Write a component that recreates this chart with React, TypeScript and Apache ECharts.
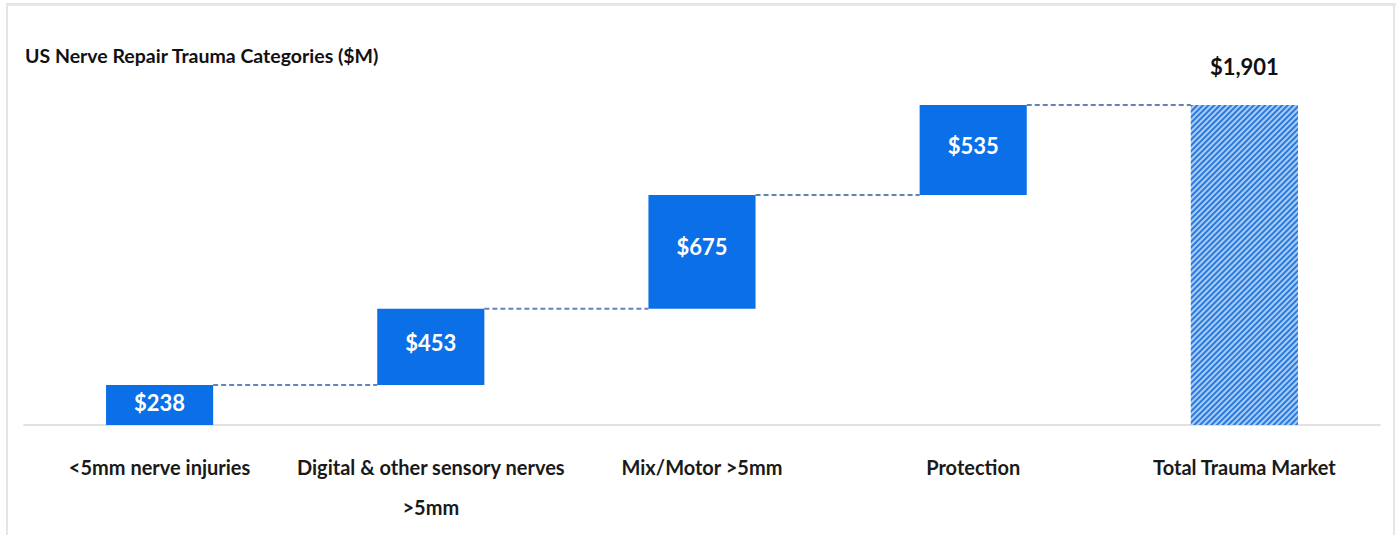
import React, { useEffect, useRef } from "react";
import * as echarts from "echarts";

const categories = [
  "<5mm nerve injuries",
  "Digital & other sensory nerves\n>5mm",
  "Mix/Motor >5mm",
  "Protection",
  "Total Trauma Market",
];
const stepValues = [238, 453, 675, 535];
const totalValue = 1901;
const titleText = "US Nerve Repair Trauma Categories ($M)";

const FONT = "Lato, 'Liberation Sans', sans-serif";
const BAR_RATIO = 0.395;

export default function App() {
  const ref = useRef<HTMLDivElement>(null);
  useEffect(() => {
    if (!ref.current) return;
    const chart = echarts.init(ref.current, null, { renderer: "svg" });

    const bases: number[] = [];
    const cums: number[] = [];
    let run = 0;
    stepValues.forEach((v) => {
      bases.push(run);
      run += v;
      cums.push(run);
    });
    bases.push(0);
    const values = [...stepValues, totalValue];

    const connectorData = cums.map((c, i) => [i, c]);

    chart.setOption({
      animation: false,
      backgroundColor: "#ffffff",
      title: {
        text: titleText,
        left: 20,
        top: 40,
        textStyle: { fontFamily: FONT, fontWeight: "bold", fontSize: 19.5, color: "#111111" },
      },
      grid: { left: 24, right: 17, top: 54.65, bottom: 110, containLabel: false },
      xAxis: {
        type: "category",
        data: categories,
        axisLine: { show: true, lineStyle: { color: "#d9d9d9", width: 1.5 } },
        axisTick: { show: false },
        axisLabel: {
          fontFamily: FONT,
          fontWeight: "bold",
          fontSize: 20,
          color: "#1a1a1a",
          lineHeight: 40,
          margin: 22,
          interval: 0,
        },
      },
      yAxis: {
        type: "value",
        min: 0,
        max: 2200,
        show: false,
        splitLine: { show: false },
      },
      graphic: [
        { type: "rect", shape: { x: 7, y: 3, width: 1389, height: 3 }, style: { fill: "#e6e6e6" }, silent: true },
        { type: "rect", shape: { x: 6, y: 3, width: 2, height: 532 }, style: { fill: "#e6e6e6" }, silent: true },
        { type: "rect", shape: { x: 1393, y: 3, width: 2, height: 532 }, style: { fill: "#e6e6e6" }, silent: true },
      ],
      series: [
        {
          type: "bar",
          stack: "w",
          data: bases,
          barWidth: `${BAR_RATIO * 100}%`,
          itemStyle: { color: "transparent" },
          silent: true,
        },
        {
          type: "bar",
          stack: "w",
          barWidth: `${BAR_RATIO * 100}%`,
          data: values.map((v, i) =>
            i < stepValues.length
              ? {
                  value: v,
                  itemStyle: { color: "#0b6fe8" },
                  label: {
                    show: true,
                    position: ["50%", "45%"],
                    align: "center",
                    verticalAlign: "middle",
                    formatter: "$" + v.toLocaleString("en-US"),
                    fontFamily: FONT,
                    fontWeight: "bold",
                    fontSize: 22,
                    color: "#ffffff",
                  },
                }
              : {
                  value: v,
                  itemStyle: {
                    color: "#a9cdf6",
                    decal: {
                      symbol: "rect",
                      symbolSize: 1,
                      dashArrayX: [1, 0],
                      dashArrayY: [2, 2],
                      rotation: -Math.PI / 4,
                      color: "#2a7ade",
                    },
                  },
                  label: {
                    show: true,
                    position: "top",
                    distance: 27,
                    formatter: "$" + v.toLocaleString("en-US"),
                    fontFamily: FONT,
                    fontWeight: "bold",
                    fontSize: 22,
                    color: "#111111",
                  },
                }
          ),
        },
        {
          type: "custom",
          data: connectorData,
          z: 5,
          renderItem: (params: any, api: any) => {
            const i = api.value(0);
            const v = api.value(1);
            const half = (api.size([1, 0])[0] * BAR_RATIO) / 2;
            const p1 = api.coord([i, v]);
            const p2 = api.coord([i + 1, v]);
            return {
              type: "line",
              shape: { x1: p1[0] + half, y1: p1[1], x2: p2[0] - half, y2: p2[1] },
              style: { stroke: "#6283b8", lineWidth: 2, lineDash: [5, 3] },
            };
          },
        },
      ],
    });
    return () => chart.dispose();
  }, []);
  return (
    <div
      ref={ref}
      style={{ position: "fixed", left: 0, top: 0, width: 1397, height: 535 }}
    />
  );
}
